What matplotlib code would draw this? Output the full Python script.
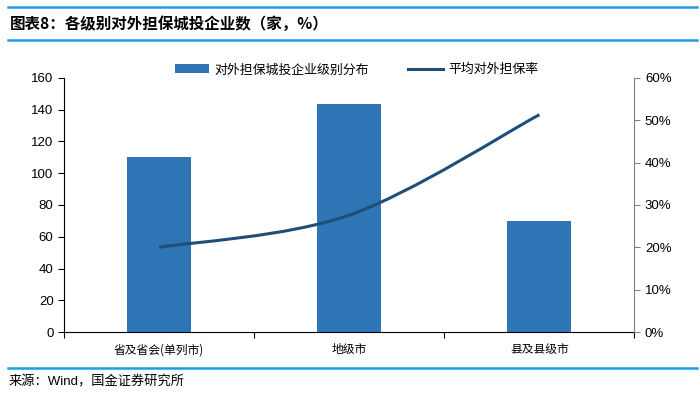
import matplotlib
matplotlib.use('Agg')

import matplotlib.pyplot as plt
from matplotlib.path import Path
from matplotlib.patches import PathPatch
from matplotlib.lines import Line2D
from matplotlib.patches import Patch

plt.rcParams['font.family'] = ['Liberation Sans', 'Noto Sans CJK SC', 'DejaVu Sans']

# data
categories = ['省及省会(单列市)', '地级市', '县及县级市']
counts = [110, 143.5, 70]
rates = [20.0, 27.6, 51.3]   # %
left_ticks = [0, 20, 40, 60, 80, 100, 120, 140, 160]
right_ticks = [0, 10, 20, 30, 40, 50, 60]

title = '图表8：各级别对外担保城投企业数（家，%）'
source = '来源：Wind，国金证券研究所'
bar_label = '对外担保城投企业级别分布'
line_label = '平均对外担保率'

bar_color = '#2E75B6'
line_color = '#1F4E79'
accent = '#1BA1E2'
cjk = ['Noto Sans CJK SC', 'DejaVu Sans']

fig = plt.figure(figsize=(7, 3.93), dpi=100)
ax = fig.add_axes([0.0914, 0.155, 0.815, 0.647])
ax2 = ax.twinx()

x = list(range(len(categories)))
ax.bar(x, counts, width=0.337, color=bar_color, zorder=2)
ax.set_xlim(-0.5, 2.5)
ax.set_ylim(0, 160)
ax.set_yticks(left_ticks)
ax.set_xticks(x)
ax.set_xticklabels(categories, family=cjk, fontsize=8.5)
ax.set_xticks([-0.5, 0.5, 1.5, 2.5], minor=True)
ax.tick_params(axis='x', which='major', length=0, pad=8)
ax.tick_params(axis='x', which='minor', length=4, direction='out', width=0.8)
ax.tick_params(axis='y', length=4, width=0.8, labelsize=9.5)
for s in ['top', 'right']:
    ax.spines[s].set_visible(False)
ax.spines['left'].set_linewidth(0.8)
ax.spines['bottom'].set_linewidth(0.8)

# smoothed line (Catmull-Rom style bezier like Excel)
ax2.set_ylim(0, 60)
pts = list(zip(x, rates))
verts = [pts[0]]
codes = [Path.MOVETO]
for i in range(len(pts) - 1):
    p0 = pts[i - 1] if i > 0 else pts[i]
    p1 = pts[i]
    p2 = pts[i + 1]
    p3 = pts[i + 2] if i + 2 < len(pts) else pts[i + 1]
    c1 = (p1[0] + (p2[0] - p0[0]) / 6, p1[1] + (p2[1] - p0[1]) / 6)
    c2 = (p2[0] - (p3[0] - p1[0]) / 6, p2[1] - (p3[1] - p1[1]) / 6)
    verts += [c1, c2, p2]
    codes += [Path.CURVE4] * 3
ax2.add_patch(PathPatch(Path(verts, codes), fill=False, edgecolor=line_color,
                        linewidth=2.2, capstyle='butt', zorder=3))
ax2.set_yticks(right_ticks)
ax2.set_yticklabels([f'{t}%' for t in right_ticks])
ax2.tick_params(axis='y', length=4, width=0.8, color='#808080', labelsize=9.5)
for s in ['top', 'left', 'bottom']:
    ax2.spines[s].set_visible(False)
ax2.spines['right'].set_color('#808080')
ax2.spines['right'].set_linewidth(0.8)

handles = [Patch(facecolor=bar_color, edgecolor='none'),
           Line2D([0], [0], color=line_color, linewidth=2.2)]
fig.legend(handles, [bar_label, line_label], loc='center', bbox_to_anchor=(0.509, 0.822),
           ncol=2, frameon=False, prop={'family': cjk, 'size': 9.3},
           handlelength=2.7, handletextpad=0.4, columnspacing=3.0)

# header and footer
fig.add_artist(Line2D([0.012, 0.995], [1 - 7 / 393, 1 - 7 / 393], color=accent, linewidth=1.8))
fig.add_artist(Line2D([0.012, 0.995], [1 - 40 / 393, 1 - 40 / 393], color=accent, linewidth=1.8))
fig.add_artist(Line2D([0.012, 0.995], [1 - 368 / 393, 1 - 368 / 393], color=accent, linewidth=1.8))
fig.text(0.014, 1 - 24 / 393, title, family=cjk, fontsize=11.2, fontweight='bold',
         va='center', ha='left')
fig.text(0.012, 1 - 382 / 393, source, fontsize=9.5, va='center', ha='left')

fig.savefig('out.png', dpi=100)
